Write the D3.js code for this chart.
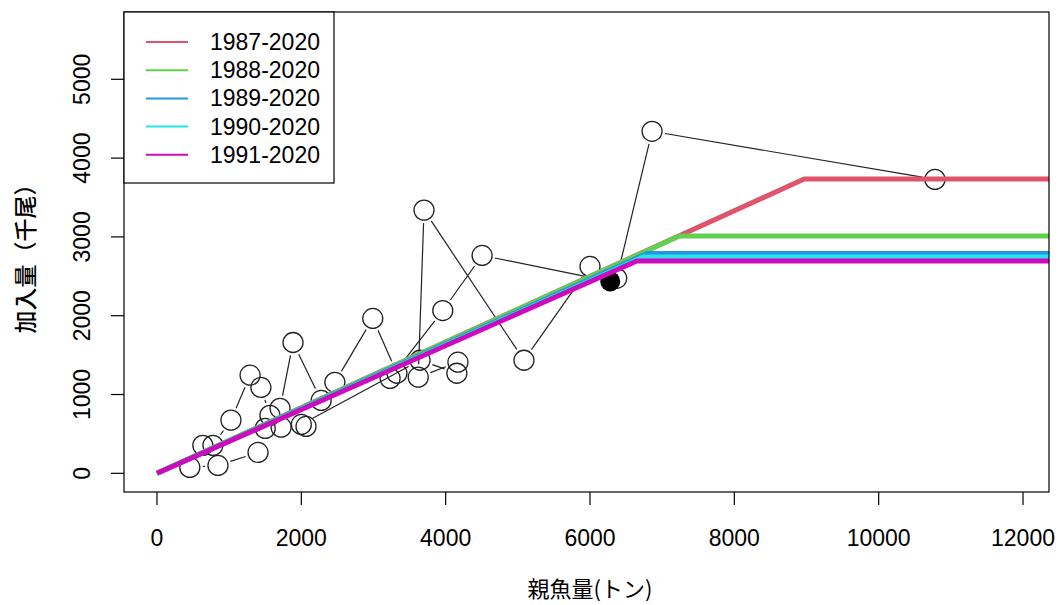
<!DOCTYPE html>
<html><head><meta charset="utf-8">
<script src="https://cdn.jsdelivr.net/npm/d3@7"></script>
<style>body{margin:0;background:#fff}svg{display:block}</style>
</head><body>
<script>
// observed spawner (t) and recruitment (thousand fish), time order
const ssb = [10780,6860,6370,6000,5085,3700,3620,4170,4155,3645,
             2000,2065,1720,1500,1400,845,455,635,775,1025,1290,1440,1565,1705,
             1885,2275,2465,2990,3325,3230,3960,4505,6280];
const rec = [3730,4340,2475,2625,1435,3340,1220,1410,1270,1435,
             620,595,585,570,265,100,75,355,355,675,1245,1090,735,825,
             1660,925,1155,1965,1270,1205,2065,2765,2435];
// hockey-stick fits
const fitNames = ["1987-2020","1988-2020","1989-2020","1990-2020","1991-2020"];
const fitBreak = [8967,7235,6787,6737,6649];
const fitMax   = [3735,3011,2788,2745,2694];
const fitColors = ["#DF536B","#61D04F","#2297E6","#28E2E5","#CD0BBC"];
const xTicks = [0,2000,4000,6000,8000,10000,12000];
const yTicks = [0,1000,2000,3000,4000,5000];
const xTitle = "親魚量(トン)";
const yTitle = "加入量（千尾）";

const W=1058,H=605, L=124,R=1049,T=12,B=492;
const x = d3.scaleLinear().domain([-457,12360]).range([L,R]);
const y = d3.scaleLinear().domain([-237,5854]).range([B,T]);
const svg = d3.select("body").append("svg").attr("width",W).attr("height",H);
const font = "'Liberation Sans', Arial, sans-serif";
const cjk = "'Noto Sans CJK JP', sans-serif";

svg.append("defs").append("clipPath").attr("id","clip")
  .append("rect").attr("x",L).attr("y",T).attr("width",R-L).attr("height",B-T);
const g = svg.append("g").attr("clip-path","url(#clip)");

// connecting lines with gaps (type "b")
const rad = 10, gap = 13;
const pts = ssb.map((v,i)=>[x(v),y(rec[i])]);
for(let i=0;i<pts.length-1;i++){
  const [x1,y1]=pts[i],[x2,y2]=pts[i+1];
  const dx=x2-x1,dy=y2-y1,len=Math.hypot(dx,dy);
  if(len<=2*gap) continue;
  const ux=dx/len,uy=dy/len;
  g.append("line").attr("x1",x1+ux*gap).attr("y1",y1+uy*gap)
   .attr("x2",x2-ux*gap).attr("y2",y2-uy*gap)
   .attr("stroke","#222").attr("stroke-width",1.2);
}
g.selectAll("circle.o").data(pts.slice(0,-1)).enter().append("circle")
  .attr("cx",d=>d[0]).attr("cy",d=>d[1]).attr("r",rad)
  .attr("fill","none").attr("stroke","#222").attr("stroke-width",1.3);
const last = pts[pts.length-1];
g.append("circle").attr("cx",last[0]).attr("cy",last[1]).attr("r",rad).attr("fill","#000");

// fit lines
fitNames.forEach((n,i)=>{
  const a = fitMax[i]/fitBreak[i];
  const line = d3.line().x(d=>x(d[0])).y(d=>y(d[1]));
  g.append("path").attr("d",line([[0,0],[fitBreak[i],a*fitBreak[i]],[12360,fitMax[i]]]))
   .attr("fill","none").attr("stroke",fitColors[i]).attr("stroke-width",5)
   .attr("stroke-linejoin","round");
});

// box
svg.append("rect").attr("x",L).attr("y",T).attr("width",R-L).attr("height",B-T)
  .attr("fill","none").attr("stroke","#000").attr("stroke-width",1.2);

// axes
const xa = svg.append("g");
xTicks.forEach(t=>{
  xa.append("line").attr("x1",x(t)).attr("x2",x(t)).attr("y1",B).attr("y2",B+13).attr("stroke","#000").attr("stroke-width",1.2);
  xa.append("text").attr("x",x(t)).attr("y",546).attr("text-anchor","middle")
    .attr("font-family",font).attr("font-size",23).text(t);
});
const ya = svg.append("g");
yTicks.forEach(t=>{
  ya.append("line").attr("x1",L-13).attr("x2",L).attr("y1",y(t)).attr("y2",y(t)).attr("stroke","#000").attr("stroke-width",1.2);
  ya.append("text").attr("transform",`translate(90,${y(t)}) rotate(-90)`).attr("text-anchor","middle")
    .attr("font-family",font).attr("font-size",23).text(t);
});
svg.append("text").attr("x",590).attr("y",597).attr("text-anchor","middle")
  .attr("font-family",cjk).attr("font-size",22).text(xTitle);
svg.append("text").attr("transform",`translate(34,253) rotate(-90)`).attr("text-anchor","middle")
  .attr("font-family",cjk).attr("font-size",23).attr("font-weight",500).text(yTitle);

// legend
const lg = svg.append("g");
lg.append("rect").attr("x",124).attr("y",12).attr("width",210).attr("height",171)
  .attr("fill","#fff").attr("stroke","#000").attr("stroke-width",1.2);
fitNames.forEach((n,i)=>{
  const yy = 42 + i*28.2;
  lg.append("line").attr("x1",146).attr("x2",188).attr("y1",yy).attr("y2",yy)
    .attr("stroke",fitColors[i]).attr("stroke-width",2);
  lg.append("text").attr("x",210).attr("y",yy+8).attr("font-family",font)
    .attr("font-size",23).text(n);
});
</script>
</body></html>
